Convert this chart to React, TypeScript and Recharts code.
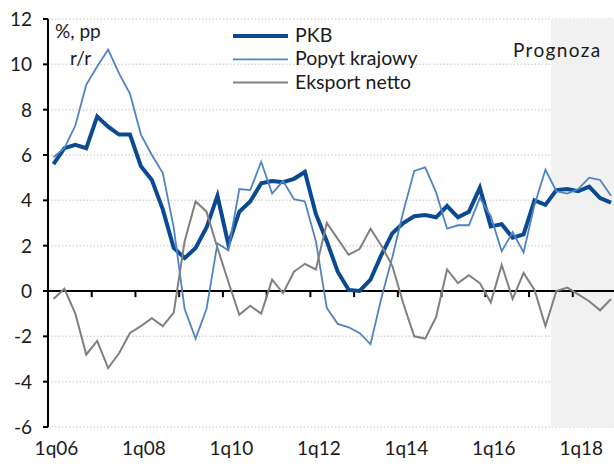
import React from 'react';
import {
  LineChart,
  Line,
  XAxis,
  YAxis,
  CartesianGrid,
  ReferenceLine,
  ReferenceArea,
  Legend,
} from 'recharts';

const quarters = [
  '1q06', '2q06', '3q06', '4q06', '1q07', '2q07', '3q07', '4q07',
  '1q08', '2q08', '3q08', '4q08', '1q09', '2q09', '3q09', '4q09',
  '1q10', '2q10', '3q10', '4q10', '1q11', '2q11', '3q11', '4q11',
  '1q12', '2q12', '3q12', '4q12', '1q13', '2q13', '3q13', '4q13',
  '1q14', '2q14', '3q14', '4q14', '1q15', '2q15', '3q15', '4q15',
  '1q16', '2q16', '3q16', '4q16', '1q17', '2q17', '3q17', '4q17',
  '1q18', '2q18', '3q18', '4q18',
];

const pkb = [
  5.6, 6.3, 6.45, 6.3, 7.7, 7.25, 6.9, 6.9, 5.5, 4.9, 3.6, 1.9, 1.45,
  1.9, 2.8, 4.2, 2.05, 3.5, 3.95, 4.75, 4.85, 4.8, 4.95, 5.25, 3.4, 2.2,
  0.85, 0.05, 0.0, 0.5, 1.6, 2.55, 3.0, 3.3, 3.35, 3.25, 3.75, 3.25, 3.5,
  4.55, 2.85, 2.95, 2.35, 2.5, 4.0, 3.8, 4.45, 4.5, 4.4, 4.6, 4.1, 3.9,
];

const popyt = [
  5.9, 6.3, 7.3, 9.1, 9.9, 10.65, 9.6, 8.7, 6.9, 6.0, 5.2, 2.8, -0.8,
  -2.1, -0.8, 2.1, 1.8, 4.5, 4.45, 5.7, 4.3, 4.85, 4.05, 3.95, 2.2, -0.75,
  -1.45, -1.6, -1.85, -2.35, -0.3, 1.5, 3.5, 5.3, 5.45, 4.35, 2.75, 2.9, 2.9,
  4.1, 3.3, 1.75, 2.6, 1.7, 3.8, 5.35, 4.4, 4.3, 4.5, 5.0, 4.9, 4.2,
];

const eksport = [
  -0.35, 0.1, -1.0, -2.8, -2.2, -3.4, -2.75, -1.85, -1.55, -1.2, -1.55, -0.95, 2.2,
  3.95, 3.5, 1.9, 0.4, -1.05, -0.65, -1.0, 0.5, -0.1, 0.85, 1.2, 0.95, 3.0,
  2.3, 1.6, 1.85, 2.75, 2.0, 1.1, -0.55, -2.0, -2.1, -1.15, 0.95, 0.35, 0.7,
  0.35, -0.5, 1.15, -0.35, 0.8, 0.05, -1.55, 0.0, 0.15, -0.15, -0.45, -0.85, -0.35,
];

const tickLabels = ['1q06', '1q08', '1q10', '1q12', '1q14', '1q16', '1q18'];
const yTicks = [-6, -4, -2, 0, 2, 4, 6, 8, 10, 12];
const tickMarkQuarters = ['1q07', '1q08', '1q09', '1q10', '1q11', '1q12', '1q13', '1q14', '1q15', '1q16', '1q17', '1q18'];
const forecastStart = '3q17';

const series = [
  { key: 'pkb', name: 'PKB', color: '#0B4A93', width: 4 },
  { key: 'popyt', name: 'Popyt krajowy', color: '#4F83C6', width: 1.8 },
  { key: 'eksport', name: 'Eksport netto', color: '#808080', width: 2 },
];

const data = quarters.map((q, i) => ({
  pos: i + 0.5,
  q,
  pkb: pkb[i],
  popyt: popyt[i],
  eksport: eksport[i],
}));

const labelPos = tickLabels.map((l) => quarters.indexOf(l) + 0.5);
const markPos = tickMarkQuarters.map((l) => quarters.indexOf(l));
const fStart = quarters.indexOf(forecastStart);
const nQ = quarters.length;

const FONT = 'Lato, "Open Sans", sans-serif';
const TXT = '#1a1a1a';

const XTick = (props: any) => {
  const { x, y, payload } = props;
  const idx = Math.round(payload.value - 0.5);
  return (
    <text x={x + 3} y={y + 20} textAnchor="middle" fill={TXT} fontSize={19} fontFamily={FONT}>
      {quarters[idx]}
    </text>
  );
};

const YTick = (props: any) => {
  const { x, y, payload } = props;
  return (
    <text x={x} y={y + 7} textAnchor="end" fill={TXT} fontSize={19} fontFamily={FONT}>
      {payload.value}
    </text>
  );
};

const LegendContent = () => (
  <svg width={200} height={70} style={{ overflow: 'visible', display: 'block' }}>
    {series.map((s, i) => (
      <g key={s.key}>
        <line x1={0} x2={55} y1={10 + i * 23.3} y2={10 + i * 23.3} stroke={s.color} strokeWidth={s.width} />
        <text x={62} y={16 + i * 23.3} fontSize={19.5} fill={TXT} fontFamily={FONT}>
          {s.name}
        </text>
      </g>
    ))}
  </svg>
);

const ForecastLabel = (props: any) => {
  const vb = props.viewBox || {};
  return (
    <text x={(vb.x ?? 551) - 38} y={57} fontSize={19} fill={TXT} fontFamily={FONT} letterSpacing={1.4}>
      Prognoza
    </text>
  );
};

export default function App() {
  return (
    <div style={{ position: 'absolute', left: 0, top: 0, width: 614, height: 472, overflow: 'hidden', background: '#fff' }}>
      <LineChart
        width={620}
        height={472}
        data={data}
        margin={{ top: 19, right: 3.5, left: 0, bottom: 0 }}
        style={{ fontFamily: FONT }}
      >
        <CartesianGrid
          horizontal
          vertical={false}
          stroke="#d4d4d4"
          strokeWidth={1.5}
          strokeDasharray="1.5 2"
        />
        <ReferenceArea
          x1={fStart}
          x2={nQ}
          y1={-6}
          y2={12}
          fill="#f1f1f1"
          fillOpacity={1}
          stroke="none"
          ifOverflow="visible"
          label={<ForecastLabel />}
        />
        <XAxis
          dataKey="pos"
          type="number"
          domain={[0, nQ]}
          ticks={labelPos}
          tick={<XTick />}
          axisLine={false}
          tickLine={false}
          height={45}
          interval={0}
          allowDataOverflow
        />
        <YAxis
          type="number"
          domain={[-6, 12]}
          ticks={yTicks}
          tick={<YTick />}
          width={48}
          tickSize={5}
          tickMargin={11}
          axisLine={{ stroke: '#000', strokeWidth: 2 }}
          tickLine={{ stroke: '#000', strokeWidth: 2 }}
          interval={0}
        />
        <ReferenceLine y={0} stroke="#000" strokeWidth={2} />
        {markPos.map((m) => (
          <ReferenceLine
            key={m}
            segment={[
              { x: m, y: 0 },
              { x: m, y: -0.27 },
            ]}
            stroke="#000"
            strokeWidth={2}
          />
        ))}
        {series.map((s) => (
          <Line
            key={s.key}
            type="linear"
            dataKey={s.key}
            name={s.name}
            stroke={s.color}
            strokeWidth={s.width}
            dot={false}
            activeDot={false}
            isAnimationActive={false}
          />
        ))}
        <Legend
          layout="vertical"
          align="center"
          verticalAlign="middle"
          content={<LegendContent />}
          wrapperStyle={{ position: 'absolute', left: 233, top: 26, width: 200, height: 70, margin: 0 }}
        />
        <text x={55} y={38} fontSize={19} fill={TXT} fontFamily={FONT}>
          %, pp
        </text>
        <text x={70} y={65} fontSize={19} fill={TXT} fontFamily={FONT}>
          r/r
        </text>
      </LineChart>
    </div>
  );
}
